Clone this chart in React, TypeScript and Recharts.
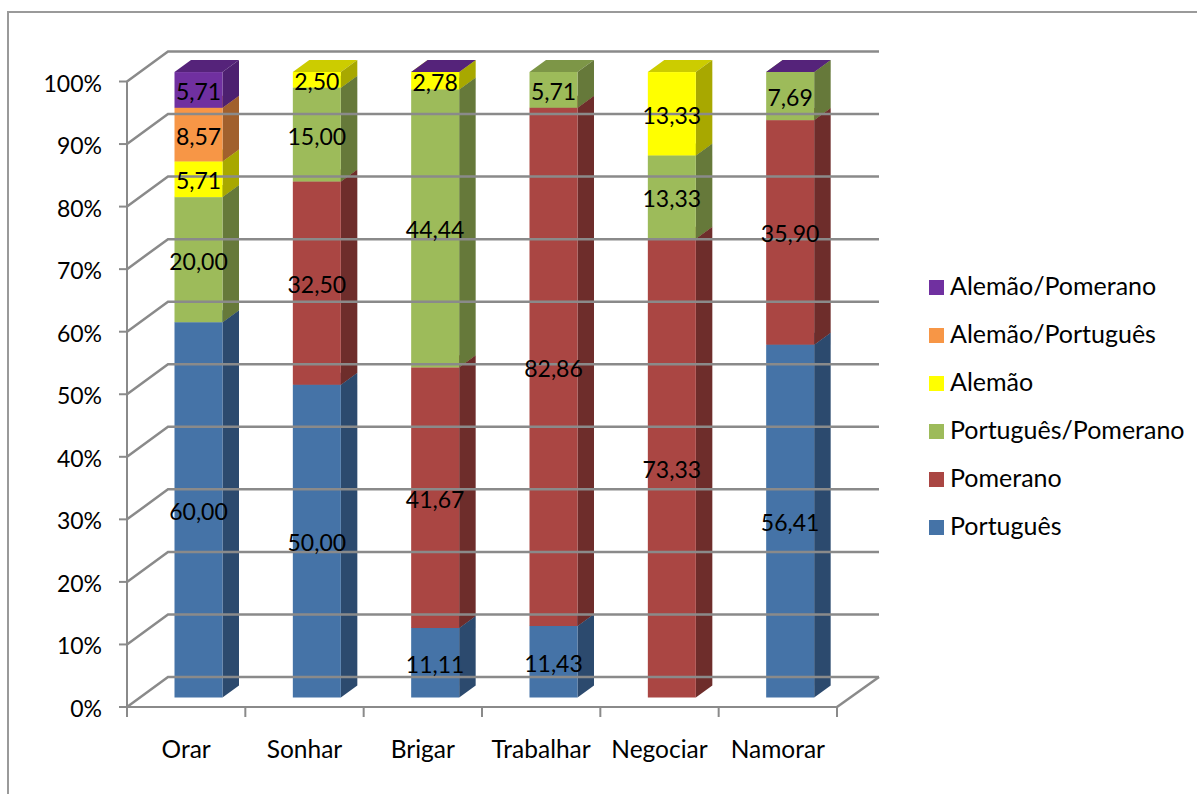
import React from "react";
import { Bar, BarChart, LabelList, Legend, XAxis, YAxis } from "recharts";

const categories = ["Orar", "Sonhar", "Brigar", "Trabalhar", "Negociar", "Namorar"];
const yTicks = [0, 10, 20, 30, 40, 50, 60, 70, 80, 90, 100];

// null = no segment at all, 0 = empty segment that still leaves its lid on the column
const portugues = [60.0, 50.0, 11.11, 11.43, null, 56.41];
const pomerano = [null, 32.5, 41.67, 82.86, 73.33, 35.9];
const portuguesPomerano = [20.0, 15.0, 44.44, 5.71, 13.33, 7.69];
const alemao = [5.71, 2.5, 2.78, null, 13.33, null];
const alemaoPortugues = [8.57, null, null, null, null, null];
const alemaoPomerano = [5.71, null, 0, null, null, 0];

const series = [
  { name: "Português", values: portugues, color: "#4573A7", side: "#2C4A6E", lid: "#375C86" },
  { name: "Pomerano", values: pomerano, color: "#AA4643", side: "#6E2D2B", lid: "#883835" },
  { name: "Português/Pomerano", values: portuguesPomerano, color: "#9DBB5A", side: "#66793A", lid: "#7D9647" },
  { name: "Alemão", values: alemao, color: "#FFFF00", side: "#A8A800", lid: "#CCCC00" },
  { name: "Alemão/Português", values: alemaoPortugues, color: "#F79646", side: "#A1602D", lid: "#C67838" },
  { name: "Alemão/Pomerano", values: alemaoPomerano, color: "#7030A0", side: "#4D2070", lid: "#55237A" },
];
const seriesNames = series.map((s) => s.name);

const rows = categories.map((category, i) => {
  const row: Record<string, string | number | null> = { category };
  series.forEach((s) => {
    row[s.name] = s.values[i];
  });
  return row;
});

const WIDTH = 1197;
const HEIGHT = 794;
const FONT = "Lato, Carlito, Calibri, sans-serif";
const AXIS_COLOR = "#8A8A8A";

const PLOT_LEFT = 127;
const PLOT_RIGHT = 837;
const PLOT_TOP = 81.5;
const PLOT_BOTTOM = 707;
const BAND = (PLOT_RIGHT - PLOT_LEFT) / categories.length;
const LEGEND_WIDTH = 268;

// depth of the walls and floor
const WALL_DX = 41;
const WALL_DY = 30;
// columns stand in the middle of the floor, and have their own depth
const COL_DX = 12.5;
const COL_DY = 9.5;
const COL_DEPTH_X = 16.5;
const COL_DEPTH_Y = 12;

function pct(v: number) {
  return v.toFixed(2).replace(".", ",");
}

function WallTick({ y, payload }: any) {
  return (
    <g>
      <polyline
        points={`${PLOT_LEFT},${y} ${PLOT_LEFT + WALL_DX},${y - WALL_DY} ${PLOT_RIGHT + WALL_DX + 1},${y - WALL_DY}`}
        fill="none"
        stroke={AXIS_COLOR}
        strokeWidth={2.5}
      />
      {payload.value === 0 && (
        <line
          x1={PLOT_RIGHT}
          y1={y}
          x2={PLOT_RIGHT + WALL_DX + 1}
          y2={y - WALL_DY}
          stroke={AXIS_COLOR}
          strokeWidth={2.5}
        />
      )}
      <text x={102} y={y + 10} textAnchor="end" fontFamily={FONT} fontSize={23} fill="#000">
        {`${payload.value}%`}
      </text>
    </g>
  );
}

function CategoryTick({ x, payload, index }: any) {
  const left = x - BAND / 2;
  return (
    <g>
      <line x1={left} y1={PLOT_BOTTOM} x2={left} y2={PLOT_BOTTOM + 10} stroke={AXIS_COLOR} strokeWidth={2} />
      {index === categories.length - 1 && (
        <line x1={x + BAND / 2} y1={PLOT_BOTTOM} x2={x + BAND / 2} y2={PLOT_BOTTOM + 10} stroke={AXIS_COLOR} strokeWidth={2} />
      )}
      <text x={x} y={PLOT_BOTTOM + 51} textAnchor="middle" fontFamily={FONT} fontSize={24.5} fill="#000">
        {payload.value}
      </text>
    </g>
  );
}

// One stacked segment: front face, right side and lid, pushed back onto the floor
function Block({ x, y, width, height, color, side, lid, hidden }: any) {
  if (hidden) return null;
  const l = x + COL_DX;
  const r = l + width;
  const t = y - COL_DY;
  const b = t + height;
  const dx = COL_DEPTH_X;
  const dy = COL_DEPTH_Y;
  return (
    <g>
      <polygon points={`${l},${t} ${l + dx},${t - dy} ${r + dx},${t - dy} ${r},${t}`} fill={lid} />
      {height > 0 && (
        <>
          <polygon points={`${r},${t} ${r + dx},${t - dy} ${r + dx},${b - dy} ${r},${b}`} fill={side} />
          <rect x={l} y={t} width={width} height={height} fill={color} />
        </>
      )}
    </g>
  );
}

function BlockLabel({ x, y, width, height, index, values }: any) {
  const value = values[index];
  if (!value) return null;
  return (
    <text
      x={x + COL_DX + width / 2}
      y={y - COL_DY + height / 2 + 10}
      textAnchor="middle"
      fontFamily={FONT}
      fontSize={23}
      fill="#000"
    >
      {pct(value)}
    </text>
  );
}

function LegendList({ payload }: any) {
  return (
    <div style={{ fontFamily: FONT, fontSize: 25, color: "#000" }}>
      {(payload ?? []).map((item: any) => (
        <div key={item.value} style={{ display: "flex", alignItems: "center", height: 48, whiteSpace: "nowrap" }}>
          <span style={{ width: 15, height: 15, background: item.color, marginRight: 7, flex: "none" }} />
          <span style={{ position: "relative", top: -2, left: -1 }}>{item.value}</span>
        </div>
      ))}
    </div>
  );
}

export default function App() {
  return (
    <div
      style={{
        position: "absolute",
        left: 0,
        top: 0,
        width: WIDTH,
        height: HEIGHT,
        overflow: "hidden",
        background: "#fff",
      }}
    >
      <div
        style={{
          position: "absolute",
          left: 7,
          top: 11,
          width: WIDTH,
          height: HEIGHT,
          border: "2px solid #9A9A9A",
        }}
      />
      <BarChart
        width={WIDTH}
        height={HEIGHT}
        data={rows}
        margin={{
          top: PLOT_TOP,
          right: WIDTH - PLOT_RIGHT - LEGEND_WIDTH,
          bottom: HEIGHT - PLOT_BOTTOM - 30,
          left: 0,
        }}
        barSize={48}
        style={{ position: "absolute", left: 0, top: 0 }}
      >
        <XAxis
          dataKey="category"
          height={30}
          stroke={AXIS_COLOR}
          strokeWidth={2}
          tickLine={false}
          tick={<CategoryTick />}
          interval={0}
          zIndex={100}
        />
        <YAxis
          width={PLOT_LEFT}
          domain={[0, 100]}
          ticks={yTicks}
          interval={0}
          stroke={AXIS_COLOR}
          strokeWidth={2}
          tickSize={8}
          tick={<WallTick />}
          zIndex={100}
        />
        <Legend
          layout="vertical"
          align="right"
          verticalAlign="top"
          itemSorter={(item: any) => -seriesNames.indexOf(item.value)}
          wrapperStyle={{ left: 929, top: 263, width: LEGEND_WIDTH }}
          content={<LegendList />}
        />
        {series.map((s) => (
          <Bar
            key={s.name}
            dataKey={s.name}
            name={s.name}
            stackId="total"
            fill={s.color}
            isAnimationActive={false}
            shape={(props: any) => (
              <Block
                {...props}
                color={s.color}
                side={s.side}
                lid={s.lid}
                hidden={s.values[props.index] === null}
              />
            )}
          >
            <LabelList content={(props: any) => <BlockLabel {...props} values={s.values} />} />
          </Bar>
        ))}
      </BarChart>
    </div>
  );
}
